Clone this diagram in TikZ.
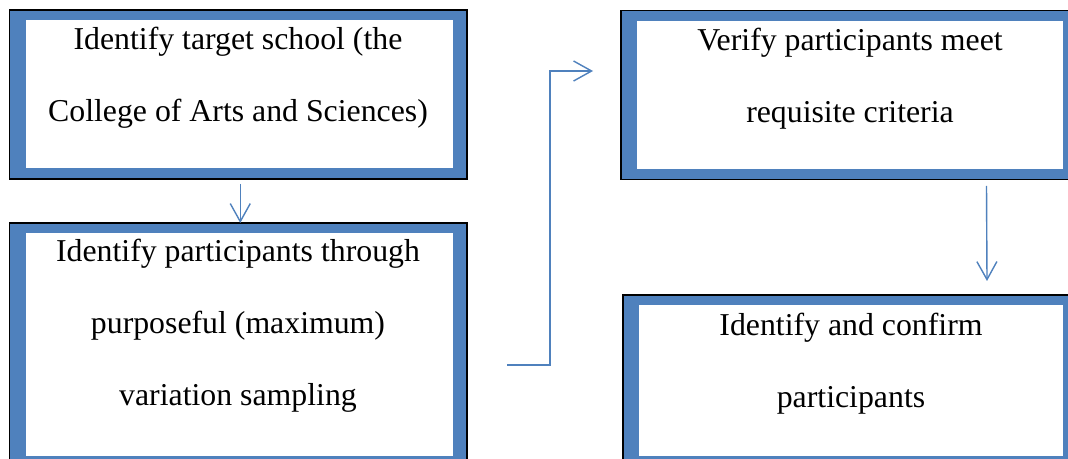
\documentclass[tikz,border=0pt]{standalone}
\usepackage{fontspec}
\setmainfont{Liberation Serif}
\usetikzlibrary{arrows.meta}
\definecolor{frameblue}{HTML}{4F81BD}
\begin{document}
\begin{tikzpicture}[x=1pt,y=1pt,
  stepframe/.style={draw=black, line width=1.4pt, fill=frameblue,
    minimum width=#1, inner sep=0pt, outer sep=0pt, anchor=south west,
    path picture={\fill[white]
      ([shift={(16,10.5)}]path picture bounding box.south west) rectangle
      ([shift={(-14,-10.5)}]path picture bounding box.north east);}},
  steptext/.style={font=\fontsize{31.8}{72}\selectfont, align=center,
    anchor=base, inner sep=0pt},
  arr/.style={draw=frameblue, line width=1.4pt,
    -{Straight Barb[length=18pt,width=20pt,line width=1.4pt]}}]
\useasboundingbox (0,0) rectangle (1068,458);
\clip (0,0) rectangle (1068,458);
\fill[white] (0,0) rectangle (1068,458);

% frames
\node[stepframe=457.5, minimum height=169] (b1) at (9.5,279) {};
\node[stepframe=457.5, minimum height=243] (b2) at (9.5,-8) {};
\node[stepframe=456,   minimum height=169] (b3) at (621,278.5) {};
\node[stepframe=454,   minimum height=171] (b4) at (623,-8) {};

% texts (anchored at the baseline of the last line)
\node[steptext] (t1) at (238,336) {Identify target school (the\\College of Arts and Sciences)};
\node[steptext] (t2) at (238,53) {Identify participants through\\purposeful (maximum)\\variation sampling};
\node[steptext] (t3) at (850,335) {Verify participants meet\\requisite criteria};
\node[steptext] (t4) at (851,51) {Identify and confirm\\participants};

% connectors
\draw[arr] ([shift={(2,-5)}]b1.south) -- ([xshift=2]b2.north);

\coordinate (s2) at ([shift={(40,-20.5)}]b2.east);
\coordinate (k2) at ([shift={(83,-20.5)}]b2.east);
\coordinate (e2) at ([shift={(-28,24)}]b3.west);
\draw[arr] (s2) -- (k2) |- (e2);

\draw[arr] ([shift={(137.5,-6.5)}]b3.south) -- ([shift={(137,14)}]b4.north);
\end{tikzpicture}
\end{document}
